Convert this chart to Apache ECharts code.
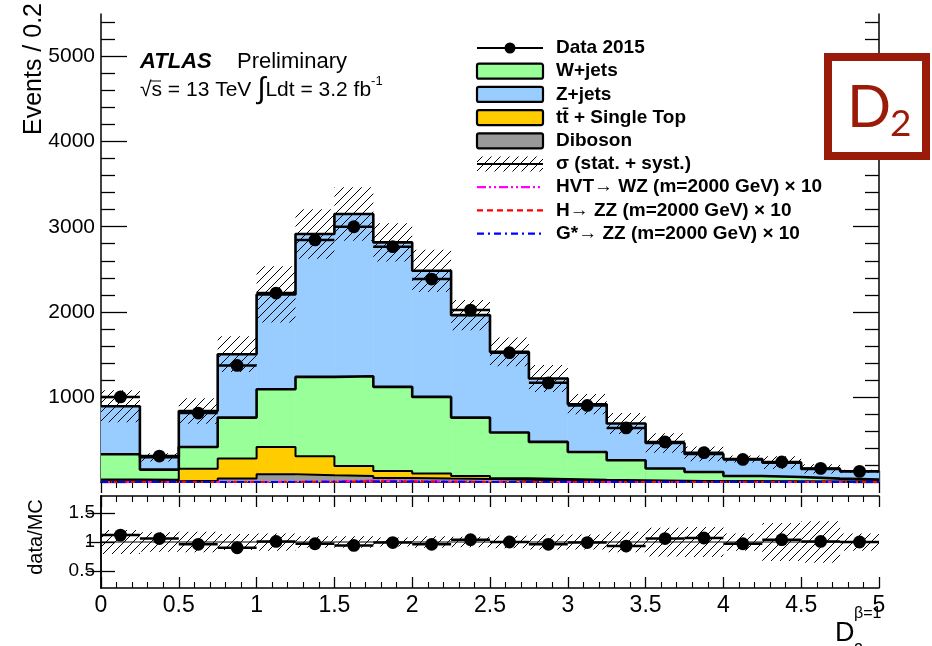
<!DOCTYPE html>
<html><head><meta charset="utf-8">
<script src="https://cdn.jsdelivr.net/npm/echarts@6/dist/echarts.min.js"></script>
<style>html,body{margin:0;padding:0;background:#fff}#c{width:932px;height:646px}</style>
</head><body><div id="c"></div>
<script>
// ---------------- data ----------------
const binEdges = [0,0.25,0.5,0.75,1,1.25,1.5,1.75,2,2.25,2.5,2.75,3,3.25,3.5,3.75,4,4.25,4.5,4.75,5];
const dataCounts = [1000,305,810,1370,2220,2845,3000,2765,2385,2020,1520,1165,900,635,470,345,265,235,160,125];
const diboson = [10,8,15,40,90,79,71,47,40,35,25,20,15,12,10,8,6,5,4,3];
const ttbar   = [18,17,142,235,322,223,117,83,59,36,19,15,10,8,5,2,2,1,1,1];
const wjets   = [298,121,255,482,678,933,1055,988,901,686,537,436,328,235,143,108,63,53,35,24];
const zjets   = [564,144,423,745,1114,1679,1906,1698,1482,1204,948,745,561,432,301,212,200,169,114,98];
const mcRelErr = [0.21,0.17,0.18,0.14,0.15,0.10,0.10,0.08,0.10,0.09,0.11,0.13,0.13,0.18,0.25,0.26,0.15,0.33,0.36,0.15];
const ratio = [1.12,1.06,0.96,0.90,1.01,0.97,0.94,0.99,0.96,1.04,1.00,0.96,0.99,0.93,1.06,1.07,0.97,1.04,1.01,1.00];
const hvtSig   = [0,0,0,0,2,8,18,14,6,2,1,0,0,0,0,0,0,0,0,0];
const hzzSig   = [0,0,0,0,1,4,8,7,3,1,0,0,0,0,0,0,0,0,0,0];
const gstarSig = [0,0,0,0,1,3,6,5,2,1,0,0,0,0,0,0,0,0,0,0];
const xTickLabels = [0,0.5,1,1.5,2,2.5,3,3.5,4,4.5,5];
const yTickLabels = [1000,2000,3000,4000,5000];
const ratioTickLabels = [0.5,1,1.5];
const legendLabels = ['Data 2015','W+jets','Z+jets','tt\u0304 + Single Top','Diboson','\u03c3 (stat. + syst.)',
  'HVT\u2192 WZ (m=2000 GeV) \u00d7 10','H\u2192 ZZ (m=2000 GeV) \u00d7 10','G*\u2192 ZZ (m=2000 GeV) \u00d7 10'];

// ---------------- styling ----------------
const FONT = '"Liberation Sans", Arial, Helvetica, sans-serif';
const stackArrays = [diboson, ttbar, wjets, zjets];
const stackColors = ['#999999', '#ffcc00', '#99ff99', '#99ccff'];
const sigColors = ['#ff00ff', '#ff0000', '#0000ff'];
const sigDash = [[9,3,2,3,2,3],[6,4],[7,4,2,4]];
const nb = dataCounts.length;
const bins = dataCounts.map((_, i) => i);

function hatchCanvas(size, lw) {
  const c = document.createElement('canvas'); c.width = size; c.height = size;
  const g = c.getContext('2d'); g.strokeStyle = '#000'; g.lineWidth = lw;
  g.beginPath();
  g.moveTo(0, size); g.lineTo(size, 0);
  g.moveTo(-size/2, size/2); g.lineTo(size/2, -size/2);
  g.moveTo(size/2, size*1.5); g.lineTo(size*1.5, size/2);
  g.stroke();
  return c;
}
const HATCH = hatchCanvas(9, 1);

// cumulative stack
const cum = []; let base = bins.map(() => 0);
stackArrays.forEach(arr => { const top = base.map((b, i) => b + arr[i]); cum.push({base, top}); base = top; });
const mcTotal = base;

function rectItem(fill, stroke) {
  return function (params, api) {
    const p0 = api.coord([api.value(0), api.value(2)]);
    const p1 = api.coord([api.value(1), api.value(3)]);
    return {type: 'rect', shape: {x: p0[0], y: p1[1], width: p1[0] - p0[0], height: p0[1] - p1[1]},
      style: {fill: fill, stroke: stroke || null, lineWidth: stroke ? 0.6 : 0}};
  };
}
function dataItem(params, api) {
  const y = api.value(2);
  const a = api.coord([api.value(0), y]);
  const b = api.coord([api.value(1), y]);
  return {type: 'group', children: [
    {type: 'line', shape: {x1: a[0], y1: a[1], x2: b[0], y2: b[1]}, style: {stroke: '#000', lineWidth: 2.5}},
    {type: 'circle', shape: {cx: (a[0] + b[0]) / 2, cy: a[1], r: 6.4}, style: {fill: '#000'}}
  ]};
}
function stepData(vals) {
  const d = bins.map(i => [binEdges[i], vals[i]]);
  d.push([binEdges[nb], vals[nb - 1]]);
  return d;
}

const series = [];
stackArrays.forEach((arr, k) => {
  series.push({type: 'custom', xAxisIndex: 0, yAxisIndex: 0, z: 2, silent: true,
    renderItem: rectItem(stackColors[k], stackColors[k]), encode: {x: [0, 1], y: [2, 3]},
    data: bins.map(i => [binEdges[i], binEdges[i + 1], cum[k].base[i], cum[k].top[i]])});
});
series.push({type: 'custom', xAxisIndex: 0, yAxisIndex: 0, z: 3, silent: true,
  renderItem: rectItem({image: HATCH, repeat: 'repeat'}), encode: {x: [0, 1], y: [2, 3]},
  data: bins.map(i => [binEdges[i], binEdges[i + 1], mcTotal[i] * (1 - mcRelErr[i]), mcTotal[i] * (1 + mcRelErr[i])])});
cum.forEach((c, k) => {
  series.push({type: 'line', xAxisIndex: 0, yAxisIndex: 0, z: 4, step: 'end', showSymbol: false, silent: true,
    lineStyle: {color: '#000', width: k < 2 ? 2 : 2.6}, data: stepData(c.top)});
});
[hvtSig, hzzSig, gstarSig].forEach((s, k) => {
  series.push({type: 'line', xAxisIndex: 0, yAxisIndex: 0, z: 4, step: 'end', showSymbol: false, silent: true, clip: false,
    lineStyle: {color: sigColors[k], width: 2, type: sigDash[k]}, data: stepData(s)});
});
series.push({type: 'custom', xAxisIndex: 0, yAxisIndex: 0, z: 6, silent: true, renderItem: dataItem,
  encode: {x: [0, 1], y: 2}, data: bins.map(i => [binEdges[i], binEdges[i + 1], dataCounts[i]])});
series.push({type: 'custom', xAxisIndex: 2, yAxisIndex: 4, z: 3, silent: true,
  renderItem: rectItem({image: HATCH, repeat: 'repeat'}), encode: {x: [0, 1], y: [2, 3]},
  data: bins.map(i => [binEdges[i], binEdges[i + 1], 1 - mcRelErr[i], 1 + mcRelErr[i]])});
series.push({type: 'line', xAxisIndex: 2, yAxisIndex: 4, z: 4, showSymbol: false, silent: true,
  lineStyle: {color: '#000', width: 1}, data: [[0, 1], [5, 1]]});
series.push({type: 'custom', xAxisIndex: 2, yAxisIndex: 4, z: 6, silent: true, renderItem: dataItem,
  encode: {x: [0, 1], y: 2}, data: bins.map(i => [binEdges[i], binEdges[i + 1], ratio[i]])});

// ---------------- axes ----------------
const axLine = {show: true, lineStyle: {color: '#000', width: 1.5}};
function xAx(grid, pos, labels) {
  return {type: 'value', gridIndex: grid, position: pos, min: 0, max: 5, interval: 0.5,
    axisLine: axLine, splitLine: {show: false},
    axisTick: {show: true, inside: true, length: 11, lineStyle: {color: '#000', width: 1.3}},
    minorTick: {show: true, splitNumber: 5, length: 6, lineStyle: {color: '#000', width: 1.1}},
    axisLabel: labels ? {show: true, customValues: xTickLabels, fontFamily: FONT, fontSize: 23, color: '#000', margin: 6,
      formatter: v => String(v)} : {show: false}};
}
const minorY = [];
for (let v = 200; v < 5500; v += 200) if (v % 1000 !== 0) minorY.push(v);
const majorY = [0].concat(yTickLabels);
function yAx(grid, pos, min, max, tickVals, len, labels, lineShow, fs) {
  return {type: 'value', gridIndex: grid, position: pos, min: min, max: max,
    axisLine: lineShow ? axLine : {show: false}, splitLine: {show: false},
    axisTick: {show: true, inside: true, length: len, customValues: tickVals, lineStyle: {color: '#000', width: 1.3}},
    axisLabel: labels ? {show: true, customValues: labels, fontFamily: FONT, fontSize: fs, color: '#000', margin: 6,
      formatter: v => String(v)} : {show: false}};
}

const option = {
  animation: false,
  backgroundColor: '#fff',
  grid: [
    {left: 101, top: 14, width: 778, height: 468},
    {left: 101, top: 496, width: 778, height: 92}
  ],
  xAxis: [xAx(0, 'bottom', false), xAx(0, 'top', false), xAx(1, 'bottom', true), xAx(1, 'top', false)],
  yAxis: [
    yAx(0, 'left', 0, 5500, majorY, 26, yTickLabels, true, 21),
    yAx(0, 'left', 0, 5500, minorY, 14, null, false),
    yAx(0, 'right', 0, 5500, majorY, 26, null, true),
    yAx(0, 'right', 0, 5500, minorY, 14, null, false),
    yAx(1, 'left', 0.2, 1.8, ratioTickLabels, 14, ratioTickLabels, true, 19),
    yAx(1, 'right', 0.2, 1.8, ratioTickLabels, 14, null, true)
  ],
  series: series,
  graphic: []
};

// ---------------- texts & legend ----------------
const G = option.graphic;
G.push({type: 'text', x: 34, y: 3, rotation: Math.PI / 2, z: 10,
  style: {text: 'Events / 0.2', fontFamily: FONT, fontSize: 25, fill: '#000', align: 'right', verticalAlign: 'middle'}});
G.push({type: 'text', x: 36, y: 537, rotation: Math.PI / 2, z: 10,
  style: {text: 'data/MC', fontFamily: FONT, fontSize: 20, fill: '#000', align: 'center', verticalAlign: 'middle'}});
G.push({type: 'text', x: 140, y: 62, z: 10,
  style: {text: 'ATLAS', fontFamily: FONT, fontSize: 22, fontWeight: 'bold', fontStyle: 'italic', fill: '#000', align: 'left', verticalAlign: 'middle'}});
G.push({type: 'text', x: 237, y: 62, z: 10,
  style: {text: 'Preliminary', fontFamily: FONT, fontSize: 22, fill: '#000', align: 'left', verticalAlign: 'middle'}});
G.push({type: 'text', x: 140, y: 90, z: 10,
  style: {text: '{a|\u221as = 13 TeV }{b|\u222b}{a|Ldt = 3.2 fb}{c|-1}', fontFamily: FONT, fill: '#000', align: 'left', verticalAlign: 'middle',
    rich: {a: {fontFamily: FONT, fontSize: 21, fill: '#000'}, b: {fontFamily: FONT, fontSize: 30, fill: '#000'},
      c: {fontFamily: FONT, fontSize: 13, fill: '#000', verticalAlign: 'top'}}}});
// overline of sqrt
G.push({type: 'line', z: 10, shape: {x1: 151, y1: 81, x2: 161, y2: 81}, style: {stroke: '#000', lineWidth: 1}});
// x-axis title
G.push({type: 'text', x: 835, y: 634, z: 10,
  style: {text: 'D', fontFamily: FONT, fontSize: 27, fill: '#000', align: 'left', verticalAlign: 'middle'}});
G.push({type: 'text', x: 854, y: 614, z: 10,
  style: {text: '\u03b2=1', fontFamily: FONT, fontSize: 16, fill: '#000', align: 'left', verticalAlign: 'middle'}});
G.push({type: 'text', x: 854, y: 651, z: 10,
  style: {text: '2', fontFamily: FONT, fontSize: 16, fill: '#000', align: 'left', verticalAlign: 'middle'}});

// legend
const lx0 = 477, lx1 = 543, ltx = 556;
legendLabels.forEach((lab, k) => {
  const y = 48 + k * 23.2;
  if (k === 0) {
    G.push({type: 'line', z: 10, shape: {x1: lx0, y1: y, x2: lx1, y2: y}, style: {stroke: '#000', lineWidth: 2.2}});
    G.push({type: 'circle', z: 10, shape: {cx: (lx0 + lx1) / 2, cy: y, r: 5.5}, style: {fill: '#000'}});
  } else if (k >= 1 && k <= 4) {
    const col = [stackColors[2], stackColors[3], stackColors[1], stackColors[0]][k - 1];
    G.push({type: 'rect', z: 10, shape: {x: lx0, y: y - 7.5, width: lx1 - lx0, height: 15, r: 2},
      style: {fill: col, stroke: '#000', lineWidth: 2.2}});
  } else if (k === 5) {
    G.push({type: 'rect', z: 10, shape: {x: lx0, y: y - 7.5, width: lx1 - lx0, height: 15},
      style: {fill: {image: HATCH, repeat: 'repeat'}}});
    G.push({type: 'line', z: 10, shape: {x1: lx0, y1: y, x2: lx1, y2: y}, style: {stroke: '#000', lineWidth: 2.2}});
  } else {
    G.push({type: 'line', z: 10, shape: {x1: lx0, y1: y, x2: lx1, y2: y},
      style: {stroke: sigColors[k - 6], lineWidth: 2.2, lineDash: sigDash[k - 6]}});
  }
  G.push({type: 'text', x: ltx, y: y, z: 10,
    style: {text: lab, fontFamily: FONT, fontSize: 19, fontWeight: 'bold', fill: '#000', align: 'left', verticalAlign: 'middle'}});
});

// D2 badge
G.push({type: 'rect', z: 20, shape: {x: 828, y: 57, width: 98, height: 99},
  style: {fill: '#fff', stroke: '#9b1b0a', lineWidth: 8}});
G.push({type: 'text', z: 21, x: 847, y: 108,
  style: {text: 'D', fontFamily: 'Lato, "Noto Sans", sans-serif', fontSize: 58, fill: '#9b1b0a', align: 'left', verticalAlign: 'middle'}});
G.push({type: 'text', z: 21, x: 890, y: 124,
  style: {text: '2', fontFamily: 'Lato, "Noto Sans", sans-serif', fontSize: 37, fill: '#9b1b0a', align: 'left', verticalAlign: 'middle'}});

const chart = echarts.init(document.getElementById('c'), null, {renderer: 'canvas', width: 932, height: 646});
chart.setOption(option);
</script>
</body></html>
